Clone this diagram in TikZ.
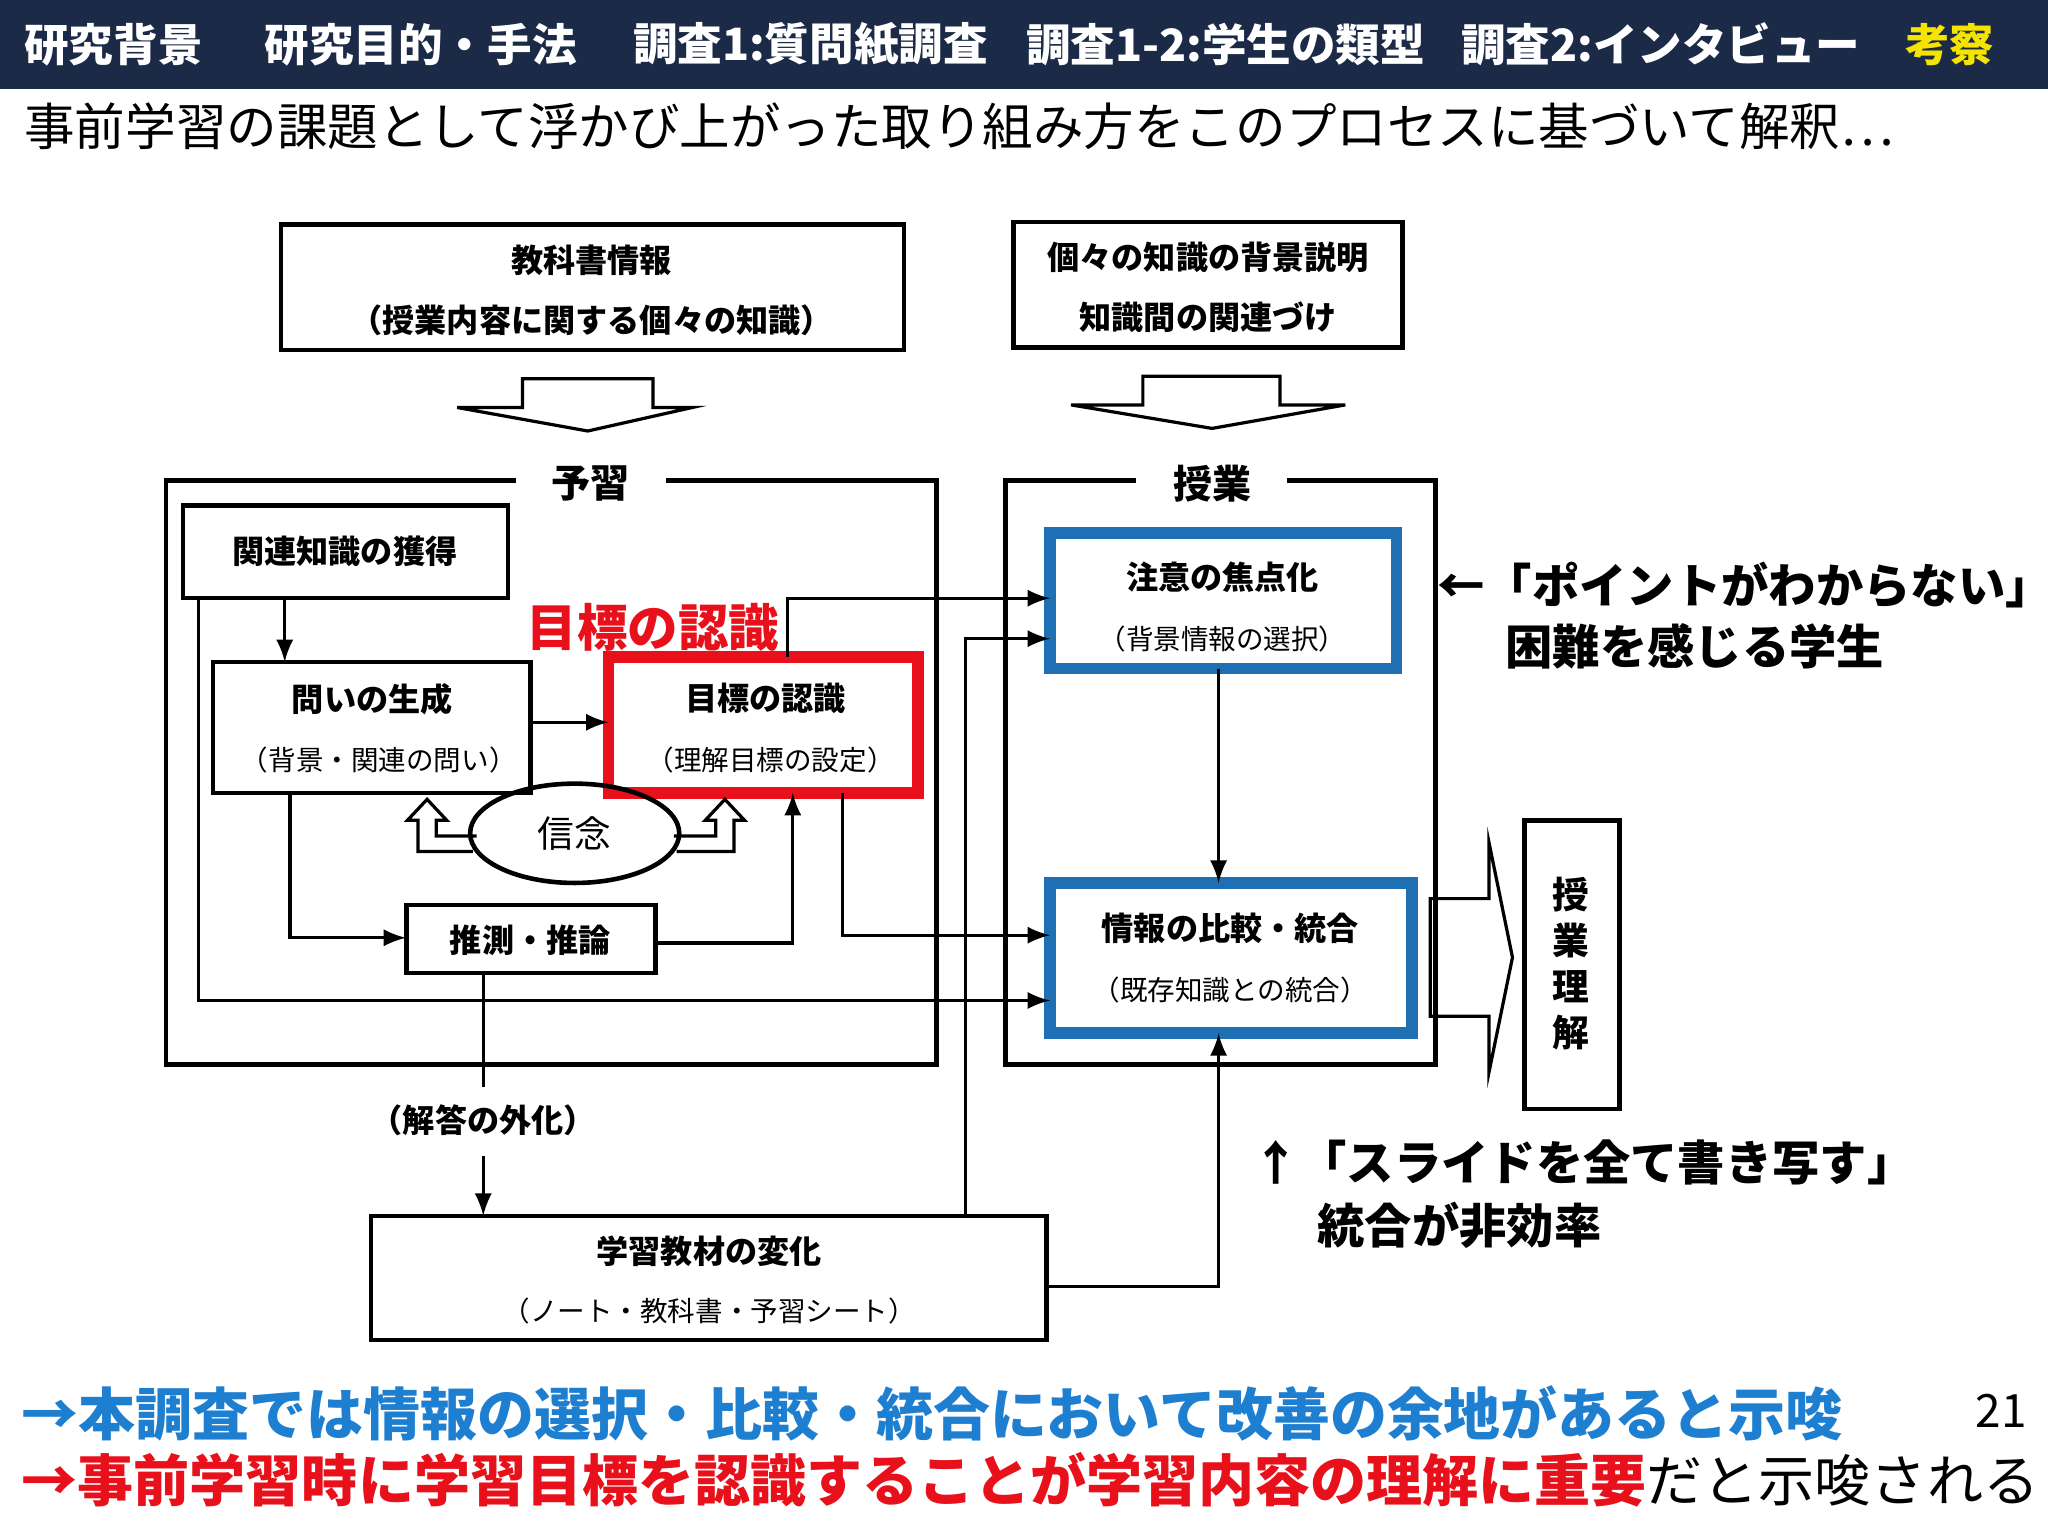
\documentclass[tikz,border=0pt]{standalone}
\usepackage{fontspec}
\setmainfont{Noto Sans CJK JP}
\usetikzlibrary{shapes.geometric}
\definecolor{navy}{HTML}{1B2A47}
\definecolor{bblue}{HTML}{1F6FB5}
\definecolor{tblue}{HTML}{1E7FD0}
\definecolor{tred}{HTML}{E8101A}
\definecolor{hy}{HTML}{F5E400}
\tikzset{
 fs/.style={font=\fontsize{#1}{#1}\selectfont},
 hd/.style={anchor=west,text=white,font=\fontsize{9.7}{10}\bfseries\selectfont,inner sep=0},
 bx/.style={draw,line width=1pt},
 tt/.style={font=\fontsize{7}{8}\bfseries\selectfont,inner sep=0},
 st/.style={font=\fontsize{6}{7}\selectfont,inner sep=0},
 ar/.style={-latex,line width=0.7pt},
 ln/.style={line width=0.7pt},
 ann/.style={anchor=west,inner sep=0,font=\fontsize{10.3}{11}\bfseries\selectfont},
}
\begin{document}
\begin{tikzpicture}[x=0.01cm,y=-0.01cm]
\useasboundingbox (0,0) rectangle (1568,1176);
\fill[navy] (0,0) rectangle (1568,68);
\node[hd] (h1) at (18,34) {研究背景};
\node[hd] (h2) at (202,34) {研究目的・手法};
\node[hd] (h3) at (484,34) {調査1:質問紙調査};
\node[hd] (h4) at (785,34) {調査1-2:学生の類型};
\node[hd] (h5) at (1118,34) {調査2:インタビュー};
\node[hd,text=hy] (h6) at (1458,34) {考察};
\node[anchor=west,inner sep=0,fs=11] (sub) at (18,97) {事前学習の課題として浮かび上がった取り組み方をこのプロセスに基づいて解釈…};
% top boxes
\draw[bx] (215,172) rectangle (692,268);
\node[tt] (k1) at (453,199) {教科書情報};
\node[tt] (k2) at (453,245) {（授業内容に関する個々の知識）};
\draw[bx] (776,170) rectangle (1074,266);
\node[tt] (b1) at (925,197) {個々の知識の背景説明};
\node[tt] (b2) at (925,243) {知識間の関連づけ};
% block arrows
\draw[ln] (400,290) -- (500,290) -- (500,312) -- (530,312) -- (450,330) -- (350,312) -- (400,312) -- cycle;
\draw[ln] (875,288) -- (980,288) -- (980,310) -- (1030,310) -- (928,328) -- (820,310) -- (875,310) -- cycle;
% frames
\draw[bx] (395,368) -- (127,368) -- (127,815) -- (717,815) -- (717,368) -- (510,368);
\node[tt,font=\fontsize{8.5}{9}\bfseries\selectfont] (yl) at (452,370) {予習};
\draw[bx] (870,368) -- (770,368) -- (770,815) -- (1099,815) -- (1099,368) -- (985,368);
\node[tt,font=\fontsize{8.5}{9}\bfseries\selectfont] (jl) at (928,370) {授業};
% inner boxes
\draw[bx] (140,387) rectangle (389,458);
\node[tt] (kr) at (264,422) {関連知識の獲得};
\draw[bx] (163,507) rectangle (406,607);
\node[tt] (t1) at (285,535) {問いの生成};
\node[st] (t2) at (290,582) {（背景・関連の問い）};
\draw[tred,line width=2.5pt] (466,503) rectangle (703,607);
\node[tt] (m1) at (586,535) {目標の認識};
\node[st] (m2) at (590,582) {（理解目標の設定）};
\node[text=tred,inner sep=0,font=\fontsize{11}{12}\bfseries\selectfont] (ml) at (500,480) {目標の認識};
\node[draw,ellipse,line width=1pt,inner sep=0,minimum width=1.6cm,minimum height=0.76cm,fs=8] (sn) at (440,638) {信念};
% small hollow arrows
\draw[ln] (362,652) -- (320,652) -- (320,628) -- (312,628) -- (327,612) -- (342,628) -- (334,628) -- (334,640) -- (365,640);
\draw[ln] (518,652) -- (562,652) -- (562,628) -- (570,628) -- (555,612) -- (540,628) -- (548,628) -- (548,640) -- (516,640);
\draw[bx] (311,693) rectangle (502,745);
\node[tt] (sr) at (406,720) {推測・推論};
% blue boxes
\draw[bblue,line width=2.5pt] (804,408) rectangle (1069,512);
\node[tt] (c1) at (936,442) {注意の焦点化};
\node[st] (c2) at (936,489) {（背景情報の選択）};
\draw[bblue,line width=2.5pt] (804,676) rectangle (1081,791);
\node[tt] (j1) at (942,711) {情報の比較・統合};
\node[st] (j2) at (942,758) {（既存知識との統合）};
% bottom box
\draw[bx] (284,931) rectangle (801,1026);
\node[tt] (g1) at (543,958) {学習教材の変化};
\node[st] (g2) at (543,1004) {（ノート・教科書・予習シート）};
\node[tt] (ge) at (370,858) {（解答の外化）};
% right block arrow and box
\draw[ln] (1095,688) -- (1140,688) -- (1140,645) -- (1158,733) -- (1140,821) -- (1140,778) -- (1095,778) -- cycle;
\draw[bx] (1167,628) rectangle (1240,849);
\node[tt,align=center,font=\fontsize{8}{10}\bfseries\selectfont] (ri) at (1203,738) {授\\業\\理\\解};
% connectors
\draw[ar] (218,458) -- (218,507);
\draw[ar] (406,553) -- (466,553);
\draw[ar] (502,722) -- (607,722) -- (607,607);
\draw[ar] (222,607) -- (222,718) -- (311,718);
\draw[ar] (152,458) -- (152,766) -- (804,766);
\draw[ar] (603,503) -- (603,458) -- (804,458);
\draw[ar] (645,607) -- (645,716) -- (804,716);
\draw[ln] (370,745) -- (370,832);
\draw[ar] (370,885) -- (370,931);
\draw[ar] (739,931) -- (739,489) -- (804,489);
\draw[ar] (801,985) -- (933,985) -- (933,791);
\draw[ar] (933,512) -- (933,676);
% annotations
\node[ann] (a1) at (1100,448) {←「ポイントがわからない」};
\node[ann] (a2) at (1152,495) {困難を感じる学生};
\node[ann] (a3) at (958,890) {↑「スライドを全て書き写す」};
\node[ann] (a4) at (1008,938) {統合が非効率};
\node[anchor=west,inner sep=0,text=tblue,font=\fontsize{12.4}{13}\bfseries\selectfont] (c1l) at (16,1082) {→本調査では情報の選択・比較・統合において改善の余地があると示唆};
\node[anchor=west,inner sep=0,font=\fontsize{10}{11}\selectfont] (pg) at (1512,1080) {21};
\node[anchor=west,inner sep=0,font=\fontsize{12.2}{13}\selectfont] (c2l) at (16,1133) {\textcolor{tred}{\bfseries →事前学習時に学習目標を認識することが学習内容の理解に重要}だと示唆される};
\end{tikzpicture}
\end{document}
